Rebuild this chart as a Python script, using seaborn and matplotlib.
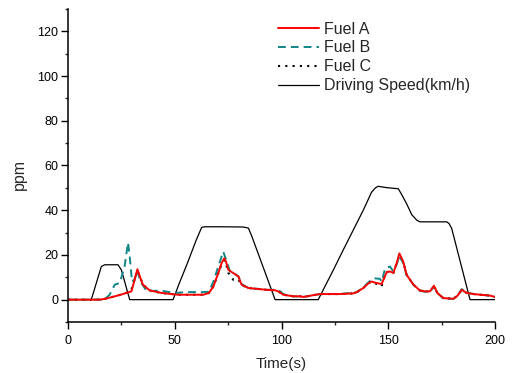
import matplotlib
matplotlib.use("Agg")
import matplotlib.pyplot as plt
from matplotlib.ticker import MultipleLocator
import seaborn as sns
import pandas as pd

# Fuel A
tA = [0, 15, 18, 22, 25, 27.3, 29.7, 31.2, 32.5, 33.8, 35.1, 38.3, 43.7, 51.5, 56, 63.4, 66, 68.1, 70.4, 72,
      73.2, 74, 75.1, 77.4, 79.8, 81.3, 84.5, 93, 97, 98.5, 100.8, 105.5, 108.7, 110.2, 114.9, 118, 127.4,
      133.6, 135.2, 138.3, 141, 142.2, 144.6, 146.9, 148, 149.3, 150.8, 152.4, 154, 155.2, 157, 158.6, 161.8,
      164.8, 167.2, 169.5, 171.4, 173, 175.8, 180.5, 182.5, 184.4, 186.7, 190, 193, 197.7, 200]
vA = [0, 0, 0.5, 1.5, 2.3, 3, 3.7, 8.9, 13.6, 10, 6.7, 4.1, 3, 2.2, 2.2, 2.2, 3, 5.9, 11.9, 16.5,
      18.5, 17, 13.3, 11.9, 10.4, 6.7, 5.2, 4.4, 4.2, 3.7, 2.2, 1.5, 1.5, 1.2, 2, 2.5, 2.5,
      2.8, 3.3, 5.2, 7.5, 8.1, 7.4, 7, 9.5, 12.3, 12.6, 11.9, 16.5, 20.7, 17, 11.1, 6.7,
      4.1, 3.7, 3.7, 6.2, 3, 0.7, 0.4, 1.8, 4.4, 3, 2.5, 2.2, 1.8, 1.2]

# Fuel B
tB = [0, 17, 19.5, 21.9, 24.2, 26.5, 28.1, 28.9, 30, 31.2, 32.5, 34, 36.9, 42.9, 50, 56, 63.4, 66, 68.1, 70.4,
      72.7, 74, 75.9, 77.4, 79.8, 81.3, 84.5, 93, 97, 99.5, 100.8, 105.5, 110.2, 114.9, 118, 127.4, 135.2,
      138.3, 141, 143, 146.1, 147, 148.5, 150.8, 152.4, 154, 155.2, 157, 158.6, 161.8, 164.8, 167.2, 169.5,
      171.4, 173, 175.8, 180.5, 182.5, 184.4, 186.7, 190, 193, 197.7, 200]
vB = [0, 0, 2.2, 6.7, 7.4, 14.8, 25.5, 19.3, 8, 9, 13, 8, 3.7, 4.1, 3, 3.4, 3.4, 3.5, 8.1, 14.8,
      21.5, 18, 12.6, 11.9, 10.4, 7, 5.2, 4.4, 4.4, 3.7, 2.5, 1.5, 1.2, 2, 2.5, 2.5, 3.3,
      5.5, 8, 9.6, 9.3, 8, 14, 14.8, 12.6, 16, 19.3, 16.5, 11, 6.7, 4.1, 3.5, 3.5,
      5.9, 3, 0.5, 0.3, 2, 4.7, 3.2, 2.5, 2.2, 1.8, 1.2]

# Fuel C
tC = tA
vC = [0, 0, 0.5, 1.5, 2.3, 3, 4.5, 8.9, 13, 10, 6.7, 4.1, 3, 2.2, 2.2, 2.2, 3, 5.9, 11.9, 16,
      17.7, 16, 12, 8.9, 9, 6.5, 5.2, 4.4, 4.2, 3.7, 2.2, 1.5, 1.5, 1.2, 2, 2.5, 2.5,
      2.8, 3.3, 5.2, 7.5, 8.1, 7, 6, 9.5, 12.3, 12.6, 11.9, 16.5, 19.5, 17, 11.1, 6.7,
      4.1, 3.7, 3.7, 5.8, 3, 0.7, 0.4, 1.8, 4.2, 3, 2.5, 2.2, 1.8, 1.2]

# Driving speed (km/h)
tS = [0, 10.9, 12.5, 15.6, 17.2, 23.4, 25, 28.9, 49.2, 52, 56, 60, 62.6, 64, 70, 82, 84.5, 86, 97, 117.2,
      124.3, 128.9, 133.6, 138.3, 142.2, 144, 145.3, 149.2, 154.7, 156, 158.6, 161, 163.3, 164.8, 177.4,
      178.5, 179.7, 188.3, 200]
vS = [0, 0, 5, 14.8, 15.6, 15.6, 13.3, 0, 0, 7, 16.5, 26.5, 32.3, 32.6, 32.6, 32.5, 32, 28.6, 0, 0,
      13.3, 22.2, 31.1, 40, 48.1, 50, 50.7, 50.1, 49.6, 47.5, 42.9, 38, 35.6, 34.8, 34.8,
      34, 31.9, 0, 0]

labels = ["Fuel A", "Fuel B", "Fuel C", "Driving Speed(km/h)"]
x_ticks = [0, 50, 100, 150, 200]
y_ticks = [0, 20, 40, 60, 80, 100, 120]

sns.set_theme(style="white")
plt.rcParams["font.family"] = ["Liberation Sans", "DejaVu Sans"]

fig = plt.figure(figsize=(5.14, 3.73), dpi=100)
ax = fig.add_axes([68 / 514, 51 / 373, 427 / 514, 313 / 373])

dA = pd.DataFrame({"t": tA, "v": vA})
dB = pd.DataFrame({"t": tB, "v": vB})
dC = pd.DataFrame({"t": tC, "v": vC})
dS = pd.DataFrame({"t": tS, "v": vS})

sns.lineplot(data=dS, x="t", y="v", ax=ax, color="black", lw=0.9, label=labels[3], sort=False)
sns.lineplot(data=dC, x="t", y="v", ax=ax, color="black", lw=1.5, ls=(0, (1, 2.5)), label=labels[2], sort=False)
sns.lineplot(data=dB, x="t", y="v", ax=ax, color="#108585", lw=1.4, ls=(0, (4, 2.6)), label=labels[1], sort=False)
sns.lineplot(data=dA, x="t", y="v", ax=ax, color="#ff0000", lw=1.4, label=labels[0], sort=False)

ax.set_xlim(0, 200)
ax.set_ylim(-10, 130)
ax.set_xticks(x_ticks)
ax.set_yticks(y_ticks)
ax.xaxis.set_minor_locator(MultipleLocator(25))
ax.yaxis.set_minor_locator(MultipleLocator(10))
ax.tick_params(which="major", direction="out", length=5, width=1, labelsize=9, colors="black",
               bottom=True, left=True)
ax.tick_params(axis="x", which="major", pad=4)
ax.tick_params(axis="y", which="major", pad=2)
ax.tick_params(which="minor", direction="out", length=2.5, width=1, bottom=True, left=True)
for s in ["top", "right"]:
    ax.spines[s].set_visible(False)
for s in ["left", "bottom"]:
    ax.spines[s].set_color("black")
    ax.spines[s].set_linewidth(1.1)
ax.set_xlabel("Time(s)", fontsize=11, labelpad=7.5)
ax.set_ylabel("ppm", fontsize=11.5)
ax.yaxis.set_label_coords(-41 / 427, 0.47)

h, l = ax.get_legend_handles_labels()
order = [l.index(x) for x in labels]
ax.legend([h[i] for i in order], [l[i] for i in order], frameon=False, fontsize=11.5,
          loc="upper left", bbox_to_anchor=(278 / 514, 1 - 21.5 / 373), bbox_transform=fig.transFigure,
          handlelength=2.55, handletextpad=0.3, labelspacing=0.25, borderpad=0, borderaxespad=0)

fig.savefig("out.png", dpi=100)
